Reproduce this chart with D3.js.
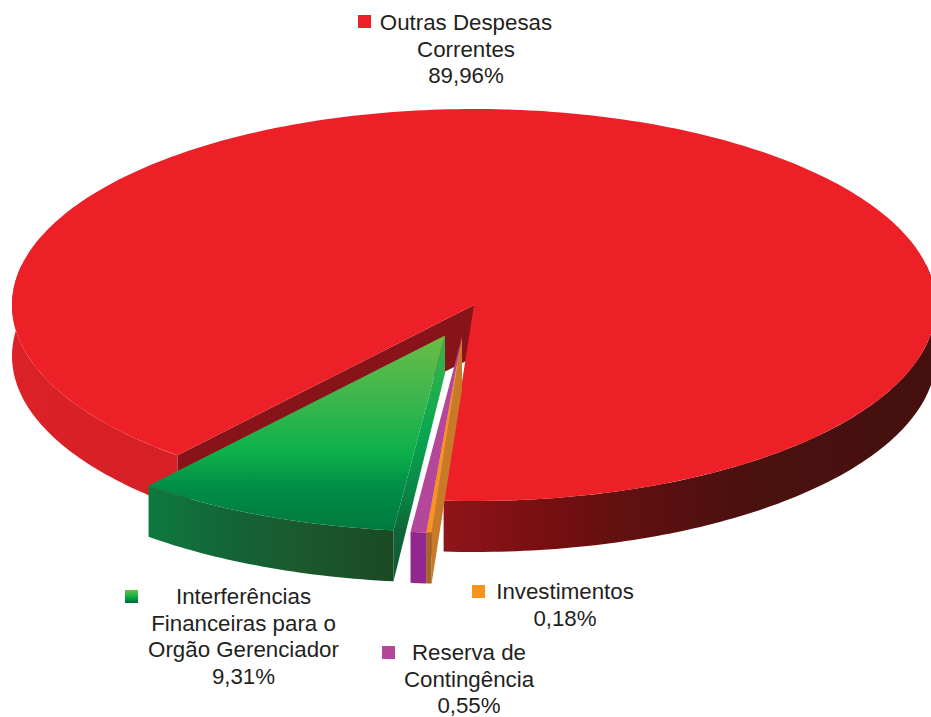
<!DOCTYPE html>
<html><head><meta charset="utf-8">
<script src="https://cdn.jsdelivr.net/npm/d3@7/dist/d3.min.js"></script>
<style>html,body{margin:0;padding:0;background:#fff}svg{display:block}</style>
</head><body><div id="chart"></div>
<script>
// ---- data ----
const categories = ["Investimentos", "Reserva de Contingência", "Interferências Financeiras para o Orgão Gerenciador", "Outras Despesas Correntes"];
const values = [0.18, 0.55, 9.31, 89.96];
const valueLabels = ["0,18%", "0,55%", "9,31%", "89,96%"];
const labelLines = [["Investimentos"], ["Reserva de", "Contingência"], ["Interferências", "Financeiras para o", "Orgão Gerenciador"], ["Outras Despesas", "Correntes"]];

// ---- layout ----
const W = 931, H = 717, RX = 462, RY = 196, DEPTH = 51;
const rad = d => d * Math.PI / 180;
const deg = a => a * 180 / Math.PI;
const startDeg = 183.77;
const centers = [{x:462,y:337,apexDepth:52},{x:462,y:337,apexDepth:52},{x:445,y:335.5,apexDepth:38},{x:474,y:305,apexDepth:52}];
const markers = [{x:472,y:585},{x:382,y:646},{x:125,y:590},{x:358,y:15}];
const labelPos = [{x:565,y:599},{x:469,y:660},{x:243.5,y:604},{x:466,y:30}];
const LINE = 26.7;

const svg = d3.select("#chart").append("svg").attr("width", W).attr("height", H).attr("viewBox", `0 0 ${W} ${H}`);
const defs = svg.append("defs");
function grad(id, x1, y1, x2, y2, stops) {
  const g = defs.append("linearGradient").attr("id", id).attr("gradientUnits", "userSpaceOnUse")
    .attr("x1", x1).attr("y1", y1).attr("x2", x2).attr("y2", y2);
  stops.forEach(([o, c]) => g.append("stop").attr("offset", o).attr("stop-color", c));
}
grad("redRim", 12, 0, 931, 0, [[0,"#dc2128"],[0.18,"#d61f26"],[0.468,"#d61f26"],[0.469,"#8f151a"],[0.56,"#7c0f12"],[0.66,"#631010"],[0.78,"#4c110f"],[1,"#44100e"]]);
grad("greenTop", 0, 336, 0, 530, [[0,"#6abd45"],[0.3,"#3fb64c"],[0.6,"#0db14b"],[0.78,"#008d47"],[1,"#007a3d"]]);
grad("greenRim", 147, 0, 393, 0, [[0,"#0e7a3e"],[0.35,"#136437"],[0.6,"#1b5a2e"],[1,"#1a4a24"]]);
grad("greenWall", 445, 340, 392, 579, [[0,"#39b54a"],[0.4,"#08a650"],[0.68,"#0a8043"],[0.8,"#0f6537"],[1,"#125a32"]]);
grad("legendGreen", 0, 590, 0, 603, [[0,"#6abd45"],[0.5,"#0db14b"],[1,"#006837"]]);

// ---- pie geometry through d3 ----
const pie = d3.pie().sort(null).value(d => d).startAngle(rad(startDeg)).endAngle(rad(startDeg + 360));
const arcs = pie(values);
const slices = arcs.map((a, i) => {
  const c = centers[i];
  const a0 = deg(a.startAngle), a1 = deg(a.endAngle);
  const sx = d3.scaleLinear().domain([-1, 1]).range([c.x - RX, c.x + RX]);
  const sy = d3.scaleLinear().domain([-1, 1]).range([c.y - RY, c.y + RY]);
  return {c, a0, a1, sx, sy, pt: (t, dz = 0) => [sx(Math.sin(rad(t))), sy(-Math.cos(rad(t))) + dz]};
});
const line = d3.line();
const samples = (a0, a1) => {
  const n = Math.max(2, Math.ceil(Math.abs(a1 - a0)));
  return d3.range(n + 1).map(i => a0 + (a1 - a0) * i / n);
};
function topFace(s) {
  return line([[s.c.x, s.c.y], ...samples(s.a0, s.a1).map(t => s.pt(t))]) + "Z";
}
function rim(s, a0, a1) {
  const ts = samples(a0, a1);
  return line([...ts.map(t => s.pt(t)), ...ts.slice().reverse().map(t => s.pt(t, DEPTH))]) + "Z";
}
function wall(s, t) {
  return line([[s.c.x, s.c.y], [s.c.x, s.c.y + s.c.apexDepth], s.pt(t, DEPTH), s.pt(t)]) + "Z";
}
const layer = svg.append("g");
const add = (d, fill) => layer.append("path").attr("d", d).attr("fill", fill);

// red: visible rim on the left of the gap and on the right
const [sO, sP, sG, sR] = slices;
add(rim(sR, sR.a0, 282), "url(#redRim)");
add(rim(sR, 78, sR.a1 - 360), "url(#redRim)");
add(wall(sR, sR.a0), "#88141a");
add(topFace(sR), "#ed1f27");

// green
add(wall(sG, sG.a0), "url(#greenWall)");
add(rim(sG, sG.a0, sG.a1), "url(#greenRim)");
add(topFace(sG), "url(#greenTop)");

// purple
add(wall(sP, sP.a0), "#b5479b");
add(rim(sP, sP.a0, sP.a1), "#92278f");
add(topFace(sP), "#b5479b");

// orange
add(wall(sO, sO.a0), "#c97a28");
add(rim(sO, sO.a0, sO.a1), "#a5651f");
add(topFace(sO), "#f7941d");

// ---- labels ----
const markerFill = ["#f7941d", "#b5479b", "url(#legendGreen)", "#ed1f27"];
const lab = svg.append("g").attr("font-family", "'Liberation Sans', Arial, sans-serif").attr("font-size", 22.3).attr("fill", "#231f20").attr("text-anchor", "middle");
categories.forEach((c, i) => {
  svg.append("rect").attr("x", markers[i].x).attr("y", markers[i].y).attr("width", 13).attr("height", 13).attr("fill", markerFill[i]);
  labelLines[i].concat(valueLabels[i]).forEach((txt, k) => {
    lab.append("text").attr("x", labelPos[i].x).attr("y", labelPos[i].y + k * LINE).text(txt);
  });
});
</script></body></html>
